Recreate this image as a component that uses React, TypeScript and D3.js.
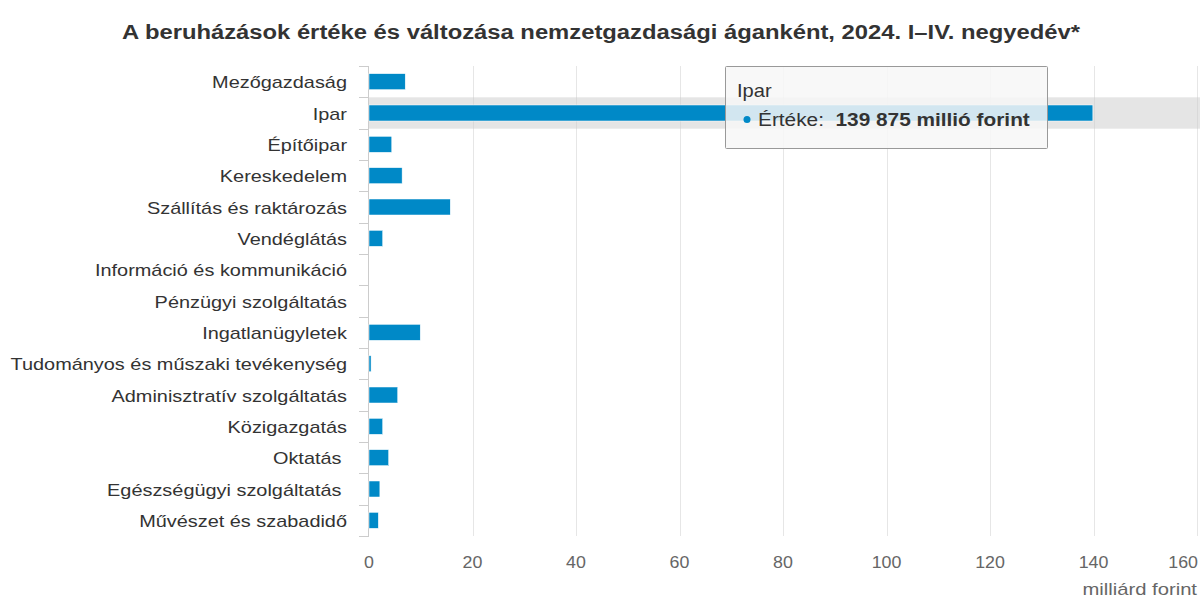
import React from "react";
import * as d3 from "d3";

const categories = [
  "Mezőgazdaság",
  "Ipar",
  "Építőipar",
  "Kereskedelem",
  "Szállítás és raktározás",
  "Vendéglátás",
  "Információ és kommunikáció",
  "Pénzügyi szolgáltatás",
  "Ingatlanügyletek",
  "Tudományos és műszaki tevékenység",
  "Adminisztratív szolgáltatás",
  "Közigazgatás",
  "Oktatás ",
  "Egészségügyi szolgáltatás ",
  "Művészet és szabadidő",
];
const values = [7.0, 139.875, 4.4, 6.4, 15.7, 2.65, 0, 0, 9.9, 0.4, 5.55, 2.65, 3.8, 2.1, 1.8];
const xTicks = [0, 20, 40, 60, 80, 100, 120, 140, 160];
const title = "A beruházások értéke és változása nemzetgazdasági áganként, 2024. I–IV. negyedév*";
const axisTitle = "milliárd forint";
const hoverIndex = 1;
const tooltipLabel = "Értéke:";
const tooltipValue = "139 875 millió forint";

const W = 1200;
const H = 598;
const left = 369;
const right = 1197;
const top = 66;
const bottom = 536;
const FONT = "'Liberation Sans', Arial, sans-serif";

function SText(props: { x: number; y: number; sx: number; anchor?: string; size: number; fill: string; weight?: string; children: React.ReactNode }) {
  const { x, y, sx, anchor = "start", size, fill, weight = "normal", children } = props;
  return (
    <g transform={`translate(${x},${y}) scale(${sx},1)`}>
      <text x={0} y={0} textAnchor={anchor} fontSize={size} fill={fill} fontWeight={weight} style={{ whiteSpace: "pre" }}>{children}</text>
    </g>
  );
}

export default function App() {
  const x = d3.scaleLinear().domain([0, 160]).range([left, right]);
  const y = d3.scaleBand<string>().domain(categories).range([top, bottom]);
  const bw = y.bandwidth();
  const barH = 16;
  const hoverCat = categories[hoverIndex];
  const boundaries = d3.range(categories.length + 1).map((i) => top + i * bw);
  const lastTick = xTicks[xTicks.length - 1];
  return (
    <svg width={W} height={H} style={{ position: "absolute", left: 0, top: 0, background: "#fff", fontFamily: FONT }}>
      <rect x={0} y={0} width={W} height={H} fill="#fff" />
      <SText x={601} y={39} sx={1.19} anchor="middle" size={20} weight="bold" fill="#333">{title}</SText>
      {/* grid */}
      {xTicks.filter((t) => t > 0).map((t) => (
        <line key={t} x1={Math.round(x(t)) + 0.5} x2={Math.round(x(t)) + 0.5} y1={top} y2={bottom} stroke="#e6e6e6" strokeWidth={1} />
      ))}
      {/* hover band */}
      <rect x={left} y={y(hoverCat)!} width={W - left} height={bw} fill="rgba(204,204,204,0.5)" />
      {/* y axis */}
      <line x1={left - 0.5} x2={left - 0.5} y1={top} y2={bottom} stroke="#ccc" />
      {boundaries.map((b, i) => (
        <line key={i} x1={left - 10} x2={left} y1={Math.round(b) + 0.5} y2={Math.round(b) + 0.5} stroke="#ccc" />
      ))}
      {/* bars */}
      {categories.map((c, i) => (
        values[i] > 0 ? (
          <rect key={c} x={x(0)} y={y(c)! + (bw - barH) / 2} width={x(values[i]) - x(0)} height={barH}
            fill="#0089c7" stroke="#fff" strokeWidth={0.5} />
        ) : null
      ))}
      {/* category labels */}
      {categories.map((c) => (
        <SText key={c} x={347} y={y(c)! + bw / 2 + 6.5} sx={1.17} anchor="end" size={17} fill="#333">{c}</SText>
      ))}
      {/* x tick labels */}
      {xTicks.map((t) => (
        t === lastTick ? (
          <SText key={t} x={1198} y={568} sx={1.08} anchor="end" size={16.5} fill="#666">{t}</SText>
        ) : (
          <SText key={t} x={x(t)} y={568} sx={1.08} anchor="middle" size={16.5} fill="#666">{t}</SText>
        )
      ))}
      <SText x={1197} y={595} sx={1.19} anchor="end" size={17} fill="#666">{axisTitle}</SText>
      {/* tooltip */}
      <g>
        <rect x={725.5} y={66.5} width={322} height={82} rx={1} fill="rgba(247,247,247,0.85)" stroke="#999" strokeWidth={1} />
        <SText x={737} y={97} sx={1.15} size={17.5} fill="#333">Ipar</SText>
        <circle cx={747} cy={119.5} r={3.5} fill="#0089c7" />
        <g transform="translate(758,126) scale(1.19,1)">
          <text x={0} y={0} fontSize={17.5} fill="#333" style={{ whiteSpace: "pre" }}>
            <tspan>{tooltipLabel + "  "}</tspan>
            <tspan fontWeight="bold">{tooltipValue}</tspan>
          </text>
        </g>
      </g>
    </svg>
  );
}
